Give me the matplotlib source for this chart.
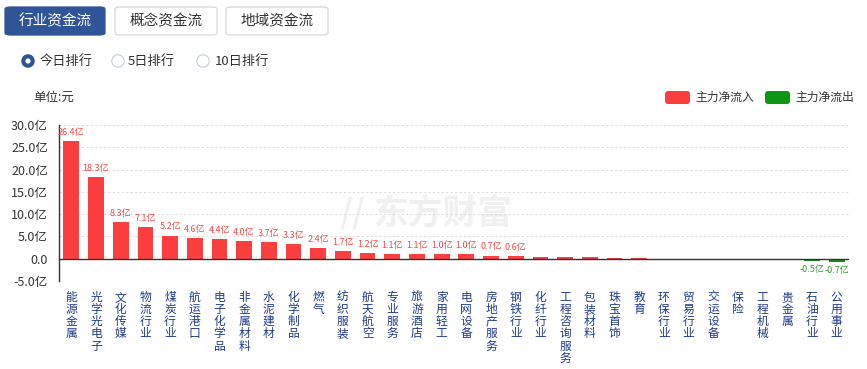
import matplotlib
matplotlib.use("Agg")
import matplotlib.pyplot as plt
from matplotlib.patches import FancyBboxPatch, Circle
from matplotlib.ticker import FixedLocator, FuncFormatter

plt.rcParams['font.family'] = ['Noto Sans CJK SC', 'DejaVu Sans']

categories = ["能源金属", "光学光电子", "文化传媒", "物流行业", "煤炭行业", "航运港口",
              "电子化学品", "非金属材料", "水泥建材", "化学制品", "燃气", "纺织服装",
              "航天航空", "专业服务", "旅游酒店", "家用轻工", "电网设备", "房地产服务",
              "钢铁行业", "化纤行业", "工程咨询服务", "包装材料", "珠宝首饰", "教育",
              "环保行业", "贸易行业", "交运设备", "保险", "工程机械", "贵金属",
              "石油行业", "公用事业"]
values = [26.4, 18.3, 8.3, 7.1, 5.2, 4.6, 4.4, 4.0, 3.7, 3.3, 2.4, 1.7, 1.2, 1.1,
          1.1, 1.0, 1.0, 0.7, 0.6, 0.4, 0.35, 0.3, 0.2, 0.1, -0.05, -0.1, -0.15,
          -0.2, -0.3, -0.4, -0.5, -0.7]
y_ticks = [-5, 0, 5, 10, 15, 20, 25, 30]
tabs = ["行业资金流", "概念资金流", "地域资金流"]
radios = ["今日排行", "5日排行", "10日排行"]
legend_labels = ["主力净流入", "主力净流出"]

RED = "#fd3e3e"
GREEN = "#0d9516"
W, H = 867, 369

fig = plt.figure(figsize=(W / 100, H / 100), dpi=100)
fig.patch.set_facecolor("white")

def fx(px):
    return px / W

def fy(py):
    return 1 - py / H

# ---- top UI (tabs) ----
tab_boxes = [(5, 105), (115, 217), (226, 328)]
for i, (name, (x0, x1)) in enumerate(zip(tabs, tab_boxes)):
    active = i == 0
    box = FancyBboxPatch((fx(x0), fy(35)), fx(x1 - x0), (28 / H),
                         boxstyle="round,pad=0,rounding_size=0.006",
                         transform=fig.transFigure,
                         facecolor="#2f5597" if active else "white",
                         edgecolor="#2f5597" if active else "#d4d8de", lw=0.9)
    fig.patches.append(box)
    fig.text(fx((x0 + x1) / 2), fy(21), name, ha="center", va="center",
             fontsize=10.5, color="white" if active else "#333333")

# overlay axes in pixel coordinates
ov = fig.add_axes([0, 0, 1, 1], zorder=5)
ov.set_xlim(0, W)
ov.set_ylim(H, 0)
ov.axis("off")
ov.set_aspect("auto")

# ---- radio buttons ----
radio_pos = [(28, 40), (118, 128), (203, 215)]
for i, (name, (cx, tx)) in enumerate(zip(radios, radio_pos)):
    if i == 0:
        ov.add_patch(Circle((cx, 61), 6.2, facecolor="#2f5597", edgecolor="#2f5597", lw=0.8))
        ov.add_patch(Circle((cx, 61), 2.6, facecolor="white", edgecolor="none"))
    else:
        ov.add_patch(Circle((cx, 61), 6.2, facecolor="white", edgecolor="#c8d2e0", lw=0.9))
    ov.text(tx, 61, name, ha="left", va="center", fontsize=9.5, color="#333333")

# unit text
ov.text(33, 97, "单位:元", ha="left", va="center", fontsize=9, color="#333333")

# legend
for (lx, tx), lab, col in zip([(665, 695), (765, 795)], legend_labels, [RED, GREEN]):
    ov.add_patch(FancyBboxPatch((lx, 91), 25, 13, boxstyle="round,pad=0,rounding_size=3",
                                facecolor=col, edgecolor="none"))
    ov.text(tx, 97.5, lab, ha="left", va="center", fontsize=8.5, color="#333333")

# ---- main chart ----
ax = fig.add_axes([fx(59), fy(281), fx(790), 156 / H])
ax.set_zorder(2)
ax.patch.set_alpha(0)

# watermark (behind the chart)
fig.text(fx(340), fy(213), "//", ha="left", va="center", fontsize=24, fontweight="bold",
         fontstyle="italic", color="#f0f0f0", zorder=0)
fig.text(fx(374), fy(213), "东方财富", ha="left", va="center", fontsize=25, fontweight="bold",
         color="#f0f0f0", zorder=0)

x = list(range(len(categories)))
colors = [RED if v >= 0 else GREEN for v in values]
ax.bar(x, values, width=0.64, color=colors, zorder=3)
ax.set_xlim(-0.5, len(categories) - 0.5)
ax.set_ylim(-5, 30)
ax.yaxis.set_major_locator(FixedLocator(y_ticks))
ax.yaxis.set_major_formatter(FuncFormatter(lambda v, p: "0.0" if v == 0 else f"{v:.1f}亿"))
ax.tick_params(axis="y", length=0, labelsize=9, labelcolor="#333333", pad=8)
ax.set_xticks(x)
ax.set_xticklabels(["\n".join(c) for c in categories], fontsize=8.5, color="#1f3b8c",
                   linespacing=0.92, va="top")
ax.tick_params(axis="x", length=0, pad=7)
ax.grid(axis="y", color="#dddddd", linestyle=(0, (2, 2)), linewidth=0.8, zorder=0)
for s in ["top", "right", "bottom"]:
    ax.spines[s].set_visible(False)
ax.spines["left"].set_color("#333333")
ax.spines["left"].set_linewidth(1.0)
ax.axhline(0, color="#333333", linewidth=1.0, zorder=4)

for xi, v in zip(x, values):
    if abs(v) >= 0.5:
        if v > 0:
            ax.annotate(f"{v:.1f}亿", (xi, v), xytext=(0, 3), textcoords="offset points",
                        ha="center", va="bottom", fontsize=6.5, color="#f04848")
        else:
            ax.annotate(f"{v:.1f}亿", (xi, v), xytext=(0, -3), textcoords="offset points",
                        ha="center", va="top", fontsize=6.5, color="#2f9a2f")

fig.savefig("out.png", dpi=100)
